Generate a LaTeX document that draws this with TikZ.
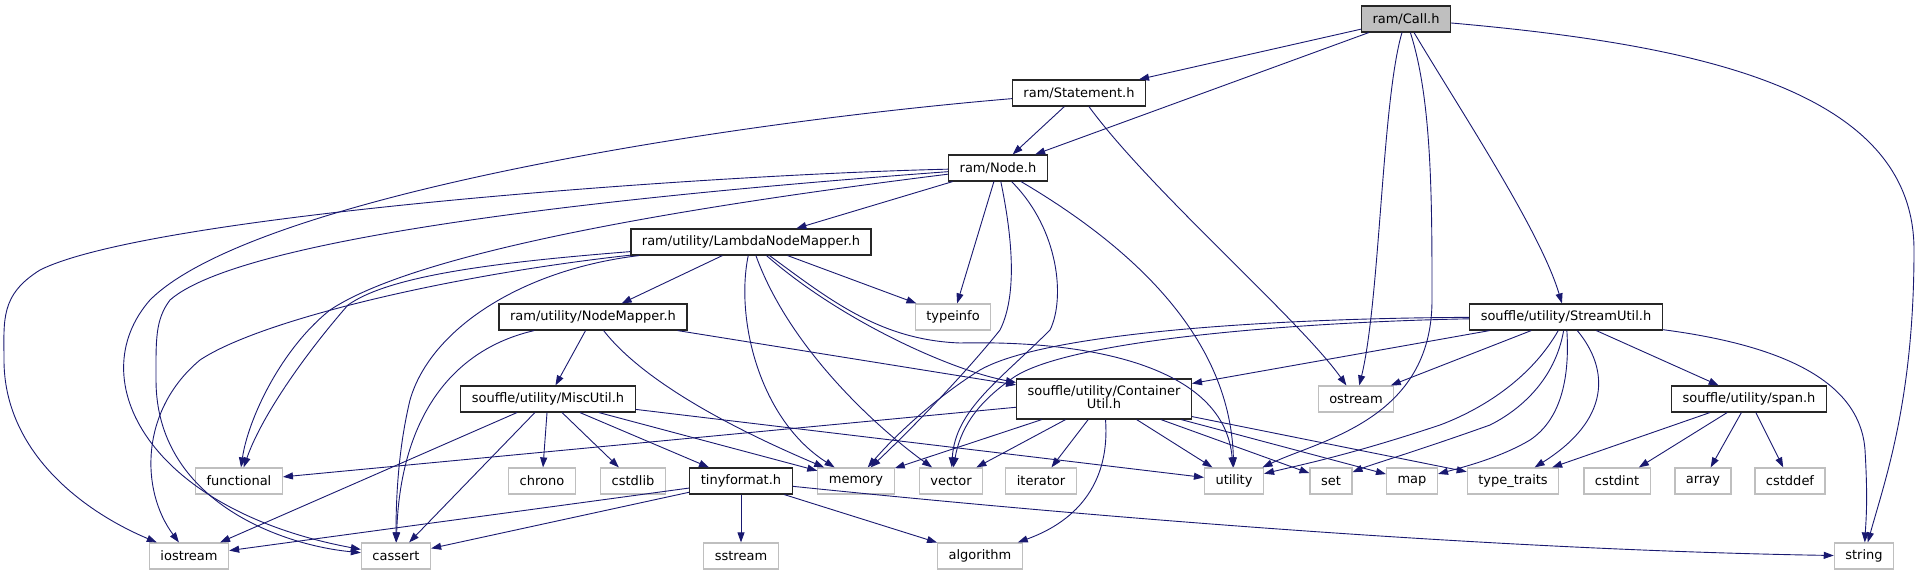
\documentclass[tikz,border=0pt]{standalone}
\usepackage{fontspec}
\setmainfont{DejaVu Sans}
\usetikzlibrary{arrows.meta}
\definecolor{edgecol}{RGB}{25,25,112}
\definecolor{syscol}{gray}{0.75}
\definecolor{rootcol}{gray}{0.75}
\tikzset{
  hdr/.style={draw=black!85,line width=1.2pt,fill=white,rectangle,inner xsep=11pt,inner ysep=0pt,
    minimum height=26pt,font=\fontsize{13}{15}\selectfont},
  sys/.style={hdr,draw=syscol},
  root/.style={hdr,fill=rootcol},
  edge/.style={draw=edgecol,line width=0.9pt,-{Triangle[length=10pt,width=7pt]}},
}
\begin{document}
\begin{tikzpicture}[x=1pt,y=-1pt]
  \useasboundingbox (0,0) rectangle (1920,575);
  \node[root] (call) at (1406,19) {ram/Call.h};
  \node[hdr] (stmt) at (1079,93) {ram/Statement.h};
  \node[hdr] (nodeh) at (998,168) {ram/Node.h};
  \node[hdr] (lambda) at (751,242) {ram/utility/LambdaNodeMapper.h};
  \node[hdr] (nmap) at (593,317) {ram/utility/NodeMapper.h};
  \node[sys] (typeinfo) at (953,317) {typeinfo};
  \node[hdr] (stream) at (1566,317) {souffle/utility/StreamUtil.h};
  \node[hdr] (misc) at (548,399) {souffle/utility/MiscUtil.h};
  \node[hdr,minimum height=40pt] (cont) at (1104,399) {\begin{tabular}{@{}c@{}}souffle/utility/Container\\[-2pt]Util.h\end{tabular}};
  \node[sys] (ostream) at (1356,399) {ostream};
  \node[hdr] (span) at (1749,399) {souffle/utility/span.h};
  \node[sys] (functional) at (239,481) {functional};
  \node[sys] (chrono) at (542,481) {chrono};
  \node[sys] (cstdlib) at (633,481) {cstdlib};
  \node[hdr] (tiny) at (741,481) {tinyformat.h};
  \node[sys] (memory) at (856,481) {memory};
  \node[sys] (vector) at (951,481) {vector};
  \node[sys] (iterator) at (1041,481) {iterator};
  \node[sys] (utility) at (1234,481) {utility};
  \node[sys] (set) at (1331,481) {set};
  \node[sys] (map) at (1412,481) {map};
  \node[sys] (ttraits) at (1513,481) {type\_traits};
  \node[sys] (cstdint) at (1617,481) {cstdint};
  \node[sys] (array) at (1703,481) {array};
  \node[sys] (cstddef) at (1790,481) {cstddef};
  \node[sys] (iostream) at (189,556) {iostream};
  \node[sys] (cassert) at (396,556) {cassert};
  \node[sys] (sstream) at (741,556) {sstream};
  \node[sys] (algo) at (980,556) {algorithm};
  \node[sys] (string) at (1864,556) {string};
  \draw[edge] (call) -- (stmt);
  \draw[edge] (call) -- (nodeh);
  \draw[edge] (call) .. controls (1382,100) and (1380,300) .. (ostream);
  \draw[edge] (call) .. controls (1432,100) and (1432,200) .. (1432,300) .. controls (1432,420) and (1320,440) .. (utility);
  \draw[edge] (call) .. controls (1460,110) and (1540,230) .. (stream);
  \draw[edge] (call) .. controls (1700,45) and (1914,90) .. (1914,250) .. controls (1914,400) and (1885,480) .. (string);
  \draw[edge] (stmt) -- (nodeh);
  \draw[edge] (stmt) .. controls (700,125) and (250,200) .. (150,300) .. controls (80,380) and (150,510) .. (cassert);
  \draw[edge] (stmt) .. controls (1150,190) and (1300,320) .. (ostream);
  \draw[edge] (nodeh) -- (lambda);
  \draw[edge] (nodeh) .. controls (700,175) and (150,215) .. (40,270) .. controls (0,295) and (4,320) .. (4,360) .. controls (4,450) and (80,510) .. (iostream);
  \draw[edge] (nodeh) .. controls (700,190) and (250,230) .. (170,300) .. controls (155,320) and (156,340) .. (156,380) .. controls (156,500) and (280,545) .. (cassert);
  \draw[edge] (nodeh) .. controls (700,205) and (420,250) .. (330,310) .. controls (280,350) and (248,420) .. (functional);
  \draw[edge] (nodeh) -- (typeinfo);
  \draw[edge] (nodeh) .. controls (1015,250) and (1015,300) .. (1000,330) .. controls (960,380) and (900,440) .. (memory);
  \draw[edge] (nodeh) .. controls (1060,230) and (1065,300) .. (1050,330) .. controls (1000,380) and (955,410) .. (vector);
  \draw[edge] (nodeh) .. controls (1120,240) and (1230,330) .. (utility);
  \draw[edge] (lambda) -- (nmap);
  \draw[edge] (lambda) -- (typeinfo);
  \draw[edge] (lambda) .. controls (500,262) and (390,275) .. (348,305) .. controls (300,360) and (260,420) .. (functional);
  \draw[edge] (lambda) .. controls (450,275) and (260,320) .. (200,360) .. controls (140,410) and (140,490) .. (iostream);
  \draw[edge] (lambda) .. controls (520,270) and (430,330) .. (410,400) .. controls (398,450) and (396,500) .. (cassert);
  \draw[edge] (lambda) .. controls (735,320) and (760,420) .. (memory);
  \draw[edge] (lambda) .. controls (790,350) and (880,430) .. (vector);
  \draw[edge] (lambda) .. controls (840,320) and (950,370) .. (cont);
  \draw[edge] (lambda) .. controls (830,300) and (880,340) .. (960,343) .. controls (1100,340) and (1225,370) .. (utility);
  \draw[edge] (nmap) -- (misc);
  \draw[edge] (nmap) .. controls (450,350) and (400,420) .. (cassert);
  \draw[edge] (nmap) .. controls (650,390) and (760,440) .. (memory);
  \draw[edge] (nmap) -- (cont);
  \draw[edge] (misc) -- (iostream);
  \draw[edge] (misc) -- (cassert);
  \draw[edge] (misc) -- (chrono);
  \draw[edge] (misc) -- (cstdlib);
  \draw[edge] (misc) -- (tiny);
  \draw[edge] (misc) -- (memory);
  \draw[edge] (misc) -- (utility);
  \draw[edge] (tiny) -- (iostream);
  \draw[edge] (tiny) -- (cassert);
  \draw[edge] (tiny) -- (sstream);
  \draw[edge] (tiny) -- (algo);
  \draw[edge] (tiny) .. controls (1100,518) and (1500,550) .. (string);
  \draw[edge] (cont) -- (functional);
  \draw[edge] (cont) -- (memory);
  \draw[edge] (cont) -- (vector);
  \draw[edge] (cont) -- (iterator);
  \draw[edge] (cont) .. controls (1110,480) and (1080,520) .. (algo);
  \draw[edge] (cont) -- (utility);
  \draw[edge] (cont) -- (set);
  \draw[edge] (cont) -- (map);
  \draw[edge] (cont) -- (ttraits);
  \draw[edge] (stream) -- (cont);
  \draw[edge] (stream) .. controls (1300,318) and (1050,330) .. (980,370) .. controls (940,395) and (900,430) .. (memory);
  \draw[edge] (stream) .. controls (1300,322) and (1060,340) .. (1010,380) .. controls (975,405) and (960,430) .. (vector);
  \draw[edge] (stream) -- (ostream);
  \draw[edge] (stream) .. controls (1530,380) and (1480,410) .. (1440,425) .. controls (1350,455) and (1300,465) .. (utility);
  \draw[edge] (stream) .. controls (1555,380) and (1520,410) .. (1490,425) .. controls (1420,450) and (1370,465) .. (set);
  \draw[edge] (stream) .. controls (1570,380) and (1560,420) .. (1530,440) .. controls (1500,458) and (1460,468) .. (map);
  \draw[edge] (stream) .. controls (1610,370) and (1610,420) .. (ttraits);
  \draw[edge] (stream) -- (span);
  \draw[edge] (stream) .. controls (1780,345) and (1860,380) .. (1865,450) .. controls (1868,500) and (1866,520) .. (string);
  \draw[edge] (span) -- (ttraits);
  \draw[edge] (span) -- (cstdint);
  \draw[edge] (span) -- (array);
  \draw[edge] (span) -- (cstddef);
\end{tikzpicture}
\end{document}
